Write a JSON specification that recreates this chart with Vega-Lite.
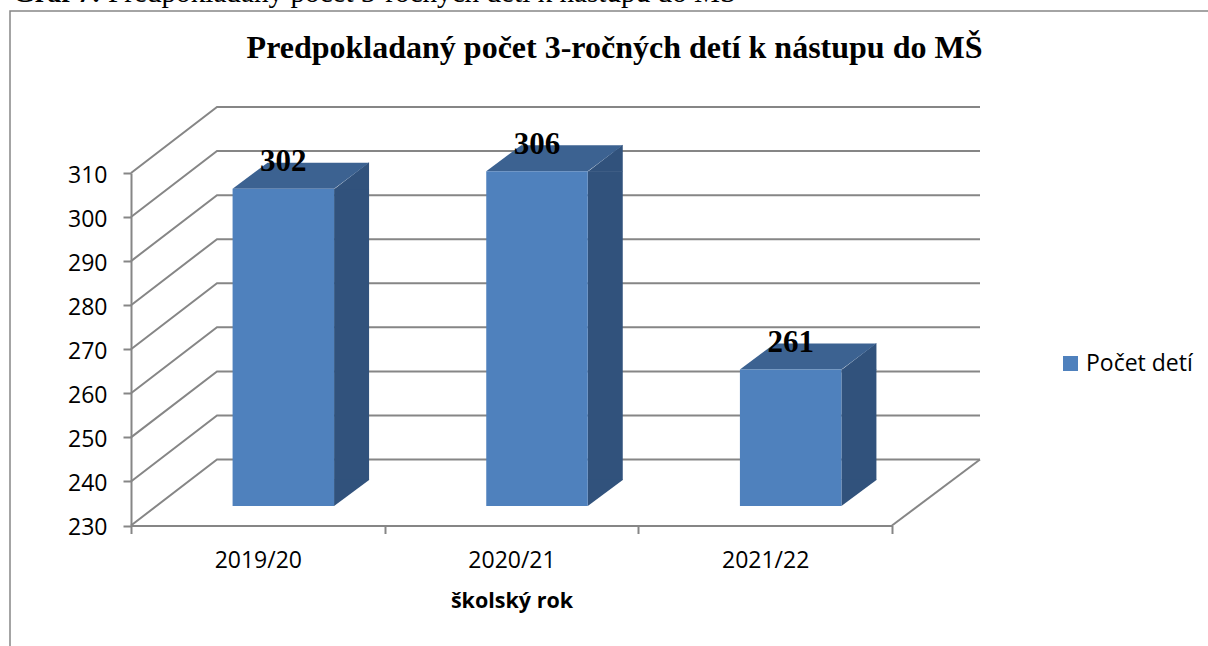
{
"$schema":"https://vega.github.io/schema/vega-lite/v6.json",
"width":761,"height":352.5,
"autosize":"none",
"padding":{"left":131,"top":173,"right":316,"bottom":120.5},
"background":"white",
"title":{"text":"Predpokladaný počet 3-ročných detí k nástupu do MŠ","font":"Liberation Serif","fontSize":32,"fontWeight":"bold","color":"#000000","anchor":"middle","dx":103,"offset":-111,"baseline":"alphabetic"},
"config":{"view":{"stroke":null}},
"datasets":{
"deti":[{"rok":"2019/20","pocet":302,"seria":"Počet detí"},{"rok":"2020/21","pocet":306,"seria":"Počet detí"},{"rok":"2021/22","pocet":261,"seria":"Počet detí"}],
"os":[{"t":230},{"t":240},{"t":250},{"t":260},{"t":270},{"t":280},{"t":290},{"t":300},{"t":310}]
},
"data":{"name":"deti"},
"encoding":{
"x":{"field":"rok","type":"nominal","sort":null,"scale":{"type":"band","domain":["2019/20","2020/21","2021/22"],"paddingInner":0,"paddingOuter":0},
"axis":{"title":"školský rok","titleFont":"Open Sans","titleFontSize":21.5,"titleFontWeight":"bold","titleColor":"#000000","titlePadding":18,"labelFont":"Open Sans","labelFontSize":23,"labelColor":"#000000","labelAngle":0,"labelPadding":16,"tickBand":"extent","tickSize":8,"tickColor":"#868686","tickWidth":2,"domainColor":"#868686","domainWidth":2,"grid":false}},
"y":{"field":"pocet","type":"quantitative","scale":{"domain":[230,310],"zero":false,"nice":false},
"axis":{"title":null,"values":[230,240,250,260,270,280,290,300,310],"labelFont":"Open Sans","labelFontSize":23,"labelColor":"#000000","labelPadding":16,"labelOffset":2,"tickSize":8,"tickColor":"#868686","tickWidth":2,"domainColor":"#868686","domainWidth":2,"grid":false}}
},
"layer":[
{"data":{"name":"os"},"transform":[{"filter":"datum.t==310"}],"mark":{"type":"point","shape":"M-121 -162H1100V500H-121Z","size":4,"filled":false,"stroke":"#868686","strokeWidth":1.5,"opacity":1},
 "encoding":{"x":{"datum":"2019/20","bandPosition":0},"y":{"field":"t","type":"quantitative"}}},
{"data":{"name":"os"},"mark":{"type":"point","shape":"M0 0L86 -66H849","size":4,"filled":false,"stroke":"#868686","strokeWidth":2,"opacity":1},
 "encoding":{"x":{"datum":"2019/20","bandPosition":0},"y":{"field":"t","type":"quantitative"}}},
{"data":{"name":"os"},"transform":[{"filter":"datum.t==230"}],"mark":{"type":"point","shape":"M761 0L849 -66","size":4,"filled":false,"stroke":"#868686","strokeWidth":2,"opacity":1},
 "encoding":{"x":{"datum":"2019/20","bandPosition":0},"y":{"field":"t","type":"quantitative"}}},
{"mark":{"type":"bar","width":35,"xOffset":93.75,"yOffset":-19.5,"y2Offset":-45.5,"color":"#31527c"},"encoding":{"y2":{"datum":230}}},
{"mark":{"type":"point","shape":"M76.25 -19L111.25 -46V-19Z","size":4,"filled":true,"fill":"#31527c","opacity":1},"encoding":{}},
{"mark":{"type":"point","shape":"M76.25 -19.5L111.25 -45.5V-46H76.25Z","size":4,"filled":true,"fill":"#31527c","opacity":1},"encoding":{"y":{"datum":230}}},
{"mark":{"type":"point","shape":"M-25.25 -19.5H76.25L111.25 -45.5H9.75Z","size":4,"filled":true,"fill":"#3c6291","opacity":1},"encoding":{}},
{"mark":{"type":"bar","width":101.5,"xOffset":25.5,"yOffset":-19.5,"y2Offset":-19.5},
 "encoding":{"y2":{"datum":230},"color":{"field":"seria","type":"nominal","scale":{"domain":["Počet detí"],"range":["#4f81bd"]},
 "legend":{"title":null,"orient":"none","legendX":928,"legendY":179,"symbolType":"square","symbolSize":225,"symbolStrokeWidth":0,"symbolOpacity":1,"labelFont":"Open Sans","labelFontSize":23,"labelColor":"#000000","labelOffset":4,"padding":0}}}},
{"mark":{"type":"text","font":"Liberation Serif","fontSize":31,"fontWeight":"bold","color":"#000000","baseline":"alphabetic","align":"center","xOffset":25.5,"yOffset":-37},"encoding":{"text":{"field":"pocet","type":"quantitative"}}},
{"data":{"name":"os"},"transform":[{"filter":"datum.t==310"}],"mark":{"type":"text","text":"Graf 7:","font":"Liberation Serif","fontSize":28,"fontWeight":"bold","color":"#000000","align":"left","baseline":"alphabetic","dx":-118,"dy":-171},
 "encoding":{"x":{"datum":"2019/20","bandPosition":0},"y":{"field":"t","type":"quantitative"}}},
{"data":{"name":"os"},"transform":[{"filter":"datum.t==310"}],"mark":{"type":"text","text":"Predpokladaný počet 3-ročných detí k nástupu do MŠ","font":"Liberation Serif","fontSize":29.2,"color":"#000000","align":"left","baseline":"alphabetic","dx":-23,"dy":-171},
 "encoding":{"x":{"datum":"2019/20","bandPosition":0},"y":{"field":"t","type":"quantitative"}}}
]
}
